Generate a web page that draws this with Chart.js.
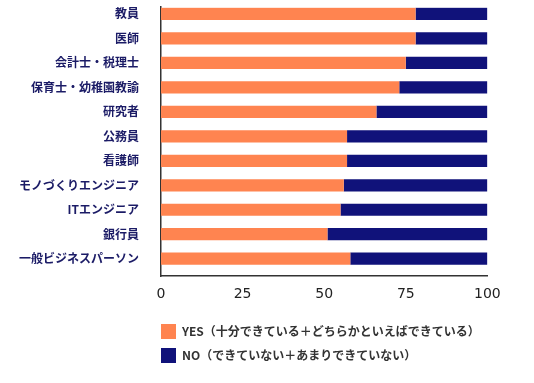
<!DOCTYPE html>
<html>
<head>
<meta charset="utf-8">
<script src="https://cdn.jsdelivr.net/npm/chart.js@4/dist/chart.umd.min.js"></script>
<style>
  html, body { margin: 0; padding: 0; background: #ffffff; }
  #wrap { position: relative; width: 534px; height: 383px; }
</style>
</head>
<body>
<div id="wrap"><canvas id="c"></canvas></div>
<script>
const categories = ['教員', '医師', '会計士・税理士', '保育士・幼稚園教諭', '研究者', '公務員', '看護師', 'モノづくりエンジニア', 'ITエンジニア', '銀行員', '一般ビジネスパーソン'];
const yesValues = [78, 78, 75, 73, 66, 57, 57, 56, 55, 51, 58];
const noValues = [22, 22, 25, 27, 34, 43, 43, 44, 45, 49, 42];
const xTicks = [0, 25, 50, 75, 100];
const seriesNames = ['YES（十分できている＋どちらかといえばできている）', 'NO（できていない＋あまりできていない）'];

const ORANGE = '#ff8450';
const NAVY = '#10127a';

const legendShift = {
  id: 'legendShift',
  afterLayout(chart) {
    const lg = chart.legend;
    if (lg) {
      const p = lg.options.labels.padding;
      lg.left = chart.chartArea.left - p;
    }
  }
};

new Chart(document.getElementById('c'), {
  type: 'bar',
  data: {
    datasets: [
      { label: seriesNames[0], data: yesValues.map((v, i) => ({ x: v, y: i })), backgroundColor: ORANGE, borderWidth: 0 },
      { label: seriesNames[1], data: noValues.map((v, i) => ({ x: v, y: i })), backgroundColor: NAVY, borderWidth: 0 }
    ]
  },
  options: {
    indexAxis: 'y',
    responsive: true,
    maintainAspectRatio: false,
    animation: false,
    barPercentage: 0.5,
    categoryPercentage: 1,
    layout: { padding: { left: 0, right: 46.6, top: 7, bottom: 10 } },
    scales: {
      x: {
        type: 'linear', min: 0, max: 100, stacked: true,
        afterBuildTicks: s => { s.ticks = xTicks.map(v => ({ value: v })); },
        ticks: { color: '#222', padding: 0, font: { family: 'DejaVu Sans', size: 14 } },
        grid: { display: false, drawTicks: true, tickLength: 9.5 },
        border: { display: true, color: '#333', width: 1.5 },
        afterFit: s => { s.height = 39; }
      },
      y: {
        type: 'linear', reverse: true, min: -0.273, max: 10.706, stacked: true, offset: false,
        afterBuildTicks: s => { s.ticks = categories.map((c, i) => ({ value: i })); },
        ticks: {
          autoSkip: false,
          callback: v => categories[v],
          color: '#1b1b66',
          padding: 0,
          font: { family: '"Noto Sans CJK JP"', size: 12, weight: 'bold' }
        },
        grid: { display: false, drawTicks: true, tickLength: 22, offset: false },
        border: { display: true, color: '#333', width: 1.5 },
        afterFit: s => { s.width = 161; }
      }
    },
    plugins: {
      tooltip: { enabled: false },
      legend: {
        position: 'bottom',
        align: 'start',
        labels: {
          boxWidth: 15,
          boxHeight: 15,
          padding: 9,
          color: '#333',
          font: { family: '"Noto Sans CJK JP"', size: 12, weight: 'bold' }
        }
      }
    }
  },
  plugins: [legendShift]
});
</script>
</body>
</html>
